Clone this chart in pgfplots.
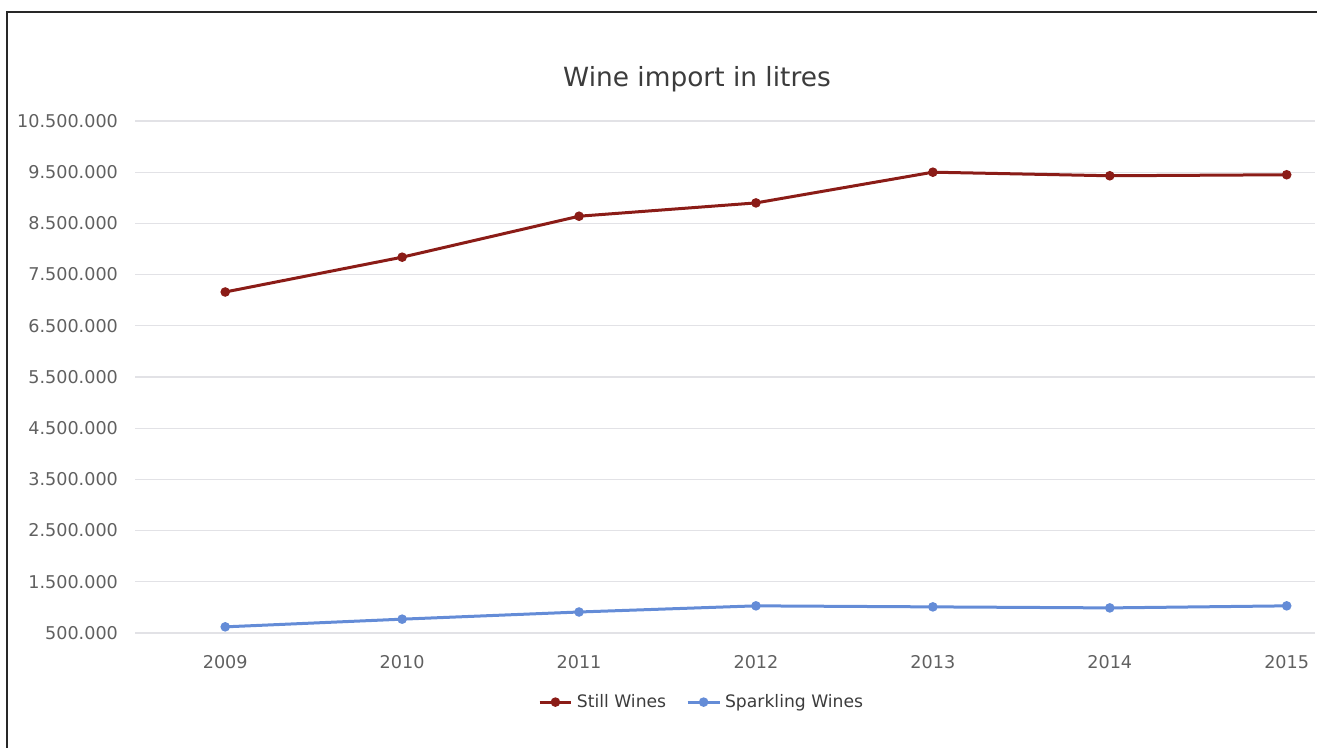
\documentclass[border=0pt]{standalone}
\usepackage{pgfplots}
\pgfplotsset{compat=1.18}
\usepackage{fontspec}
\setmainfont{DejaVu Sans}
\definecolor{stillc}{RGB}{139,28,23}
\definecolor{sparkc}{RGB}{100,140,215}
\definecolor{gridc}{RGB}{226,226,230}
\definecolor{tickc}{RGB}{96,96,96}
\definecolor{titlec}{RGB}{60,60,60}
\begin{document}
\begin{tikzpicture}
\path[use as bounding box] (0,0) rectangle (658.5pt,374pt);
\draw[line width=1.3pt, color={rgb,255:red,40;green,40;blue,40}] (3.5pt,0pt) -- (3.5pt,368pt) -- (658.5pt,368pt);
\node[font=\fontsize{13.2}{15}\selectfont, text=titlec] at (348.5pt,334.5pt) {Wine import in litres};
\begin{axis}[
  at={(67.5pt,57.5pt)}, anchor=south west,
  scale only axis, width=590pt, height=256pt,
  xmin=-0.51, xmax=6.16, ymin=500000, ymax=10500000,
  axis line style={draw=none},
  clip=false,
  xtick={0,1,2,3,4,5,6},
  xticklabels={2009,2010,2011,2012,2013,2014,2015},
  ytick={500000,1500000,2500000,3500000,4500000,5500000,6500000,7500000,8500000,9500000,10500000},
  yticklabels={500.000,1.500.000,2.500.000,3.500.000,4.500.000,5.500.000,6.500.000,7.500.000,8.500.000,9.500.000,10.500.000},
  scaled y ticks=false,
  ymajorgrids, major grid style={gridc, line width=0.6pt},
  major tick length=0pt,
  tick label style={font=\fontsize{8.8}{10}\selectfont, text=tickc},
  yticklabel style={xshift=-5pt},
  xticklabel style={yshift=-7.5pt},
  legend columns=2,
  legend style={at={(0.481,-0.135)}, anchor=center, draw=none, fill=none,
    font=\fontsize{8.6}{10}\selectfont, text=titlec,
    /tikz/every even column/.append style={column sep=8pt}},
  legend image code/.code={\draw[#1, mark repeat=2, mark phase=2] plot coordinates {(0cm,0cm) (0.28cm,0cm) (0.56cm,0cm)};},
]
\addplot[stillc, line width=1.5pt, mark=*, mark size=1.6pt] coordinates {
 (0,7160000) (1,7840000) (2,8640000) (3,8900000) (4,9500000) (5,9430000) (6,9450000)};
\addlegendentry{Still Wines}
\addplot[sparkc, line width=1.5pt, mark=*, mark size=1.6pt] coordinates {
 (0,620000) (1,770000) (2,910000) (3,1030000) (4,1010000) (5,990000) (6,1030000)};
\addlegendentry{Sparkling Wines}
\end{axis}
\end{tikzpicture}
\end{document}
